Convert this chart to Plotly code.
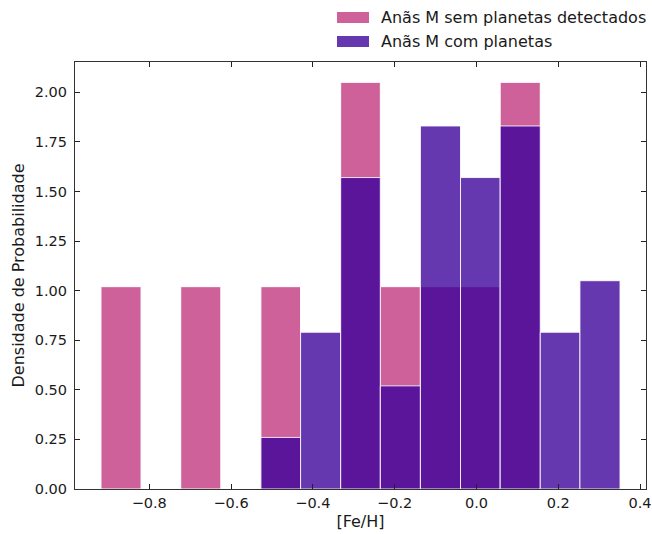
import numpy as np
import plotly.graph_objects as go

# Histogram bin edges in [Fe/H]
bin_edges = [-0.918, -0.820, -0.723, -0.625, -0.527, -0.430, -0.332,
             -0.235, -0.137, -0.039, 0.058, 0.156, 0.253, 0.351]

# Probability densities per bin (None = empty bin)
dens_sem = [1.02, None, 1.02, None, 1.02, None, 2.05, 1.02, 1.02, 1.02, 2.05, None, None]
dens_com = [None, None, None, None, 0.26, 0.79, 1.57, 0.52, 1.83, 1.57, 1.83, 0.79, 1.05]

labels = ["Anãs M sem planetas detectados", "Anãs M com planetas"]

x_tickvals = [-0.8, -0.6, -0.4, -0.2, 0.0, 0.2, 0.4]
x_ticktext = ["−0.8", "−0.6", "−0.4", "−0.2", "0.0", "0.2", "0.4"]
y_tickvals = [0.0, 0.25, 0.5, 0.75, 1.0, 1.25, 1.5, 1.75, 2.0]
y_ticktext = ["0.00", "0.25", "0.50", "0.75", "1.00", "1.25", "1.50", "1.75", "2.00"]

PINK = "rgb(206,96,154)"
PURPLE = "rgba(59,0,154,0.78)"

edges = np.array(bin_edges)
centers = (edges[:-1] + edges[1:]) / 2
widths = np.diff(edges)

FONT = "DejaVu Sans"
TICK_SIZE = 14.5
LABEL_SIZE = 16

fig = go.Figure()
fig.add_trace(go.Bar(x=centers, y=dens_sem, width=widths, name=labels[0],
                     marker=dict(color=PINK, line=dict(color="white", width=1)),
                     showlegend=False))
fig.add_trace(go.Bar(x=centers, y=dens_com, width=widths, name=labels[1],
                     marker=dict(color=PURPLE, line=dict(color="rgba(255,255,255,0.85)", width=1)),
                     showlegend=False))

# Legend drawn as patches plus text above the axes
L, R, T, B = 75, 6, 62, 45
W, H = 652, 534
pw, ph = W - L - R, H - T - B


def px_x(p):
    return (p - L) / pw


def px_y(p):
    return (H - B - p) / ph


shapes = []
annotations = []
for i, (lab, col) in enumerate(zip(labels, [PINK, PURPLE])):
    y0 = 12 + 24 * i
    shapes.append(dict(type="rect", xref="paper", yref="paper",
                       x0=px_x(337), x1=px_x(369), y0=px_y(y0 + 11), y1=px_y(y0),
                       fillcolor=col, line=dict(width=0)))
    annotations.append(dict(xref="paper", yref="paper", x=px_x(379), y=px_y(y0 + 5.5),
                            text=lab, showarrow=False, xanchor="left", yanchor="middle",
                            font=dict(family=FONT, size=LABEL_SIZE, color="#1a1a1a")))

fig.update_layout(
    width=W, height=H,
    margin=dict(l=L, r=R, t=T, b=B),
    barmode="overlay",
    plot_bgcolor="white", paper_bgcolor="white",
    font=dict(family=FONT, size=TICK_SIZE, color="#1a1a1a"),
    shapes=shapes, annotations=annotations,
    xaxis=dict(range=[-0.9815, 0.4145], tickvals=x_tickvals, ticktext=x_ticktext,
               ticks="inside", ticklen=5, tickwidth=1, tickcolor="#222",
               showline=True, linecolor="#333", linewidth=1.2, mirror="ticks",
               showgrid=False, zeroline=False, automargin=False,
               title=dict(text="[Fe/H]", standoff=6, font=dict(size=LABEL_SIZE)),
               tickfont=dict(size=TICK_SIZE)),
    yaxis=dict(range=[0, 2.1525], tickvals=y_tickvals, ticktext=y_ticktext,
               ticks="inside", ticklen=5, tickwidth=1, tickcolor="#222",
               showline=True, linecolor="#333", linewidth=1.2, mirror="ticks",
               showgrid=False, zeroline=False, automargin=False,
               ticklabelstandoff=4,
               title=dict(text="Densidade de Probabilidade", standoff=6, font=dict(size=LABEL_SIZE)),
               tickfont=dict(size=TICK_SIZE)),
)

fig.write_html("out.html")
